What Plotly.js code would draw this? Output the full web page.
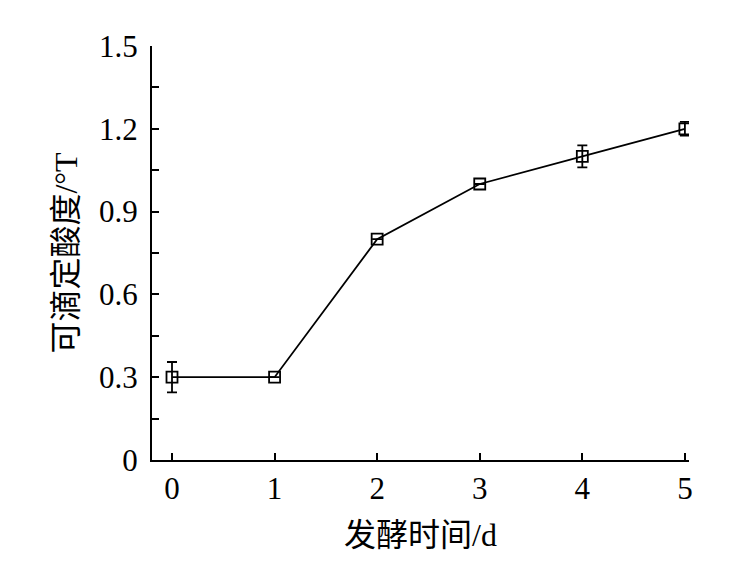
<!DOCTYPE html>
<html><head><meta charset="utf-8">
<script src="https://cdn.plot.ly/plotly-3.0.1.min.js"></script>
<style>html,body{margin:0;padding:0;background:#fff}</style>
</head><body>
<div id="chart" style="width:744px;height:569px"></div>
<script>
const days = [0, 1, 2, 3, 4, 5];
const acidity = [0.30, 0.30, 0.80, 1.00, 1.10, 1.20];
const acidityErr = [0.055, 0, 0, 0, 0.04, 0.025];
const xTickLabels = ['0', '1', '2', '3', '4', '5'];
const yTickVals = [0, 0.3, 0.6, 0.9, 1.2, 1.5];
const yTickLabels = ['0', '0.3', '0.6', '0.9', '1.2', '1.5'];

const fontFam = '"Liberation Serif", "Times New Roman", "Noto Sans CJK SC", serif';

const trace = {
  x: days, y: acidity, type: 'scatter', mode: 'lines+markers',
  line: {color: '#000', width: 1.8},
  marker: {symbol: 'square-open', size: 11, color: '#000', line: {width: 1.8, color: '#000'}},
  error_y: {type: 'data', array: acidityErr, visible: true, color: '#000', thickness: 1.8, width: 5}
};

const layout = {
  width: 744, height: 569,
  margin: {l: 152, r: 55, t: 46, b: 109},
  paper_bgcolor: '#fff', plot_bgcolor: '#fff',
  showlegend: false,
  font: {family: fontFam, color: '#000', size: 31},
  xaxis: {
    range: [-0.195, 5.04], tickvals: days, ticktext: xTickLabels,
    showgrid: false, zeroline: false, showline: true, linecolor: '#000', linewidth: 2,
    ticks: 'inside', ticklen: 7, tickwidth: 2, tickcolor: '#000',
    tickfont: {family: fontFam, size: 31},
    title: {text: '发酵时间/d', font: {family: fontFam, size: 32}, standoff: 18}
  },
  yaxis: {
    range: [0, 1.5], tickvals: yTickVals, ticktext: yTickLabels,
    showgrid: false, zeroline: false, showline: true, linecolor: '#000', linewidth: 2,
    ticks: 'inside', ticklen: 7, tickwidth: 2, tickcolor: '#000',
    minor: {dtick: 0.15, ticks: 'inside', ticklen: 7, tickwidth: 2, tickcolor: '#000'},
    tickfont: {family: fontFam, size: 31},
    ticklabelstandoff: 6,
    title: {text: '可滴定酸度/°T', font: {family: fontFam, size: 32}, standoff: 12}
  }
};

Plotly.newPlot('chart', [trace], layout, {displayModeBar: false, staticPlot: true});
</script>
</body></html>
